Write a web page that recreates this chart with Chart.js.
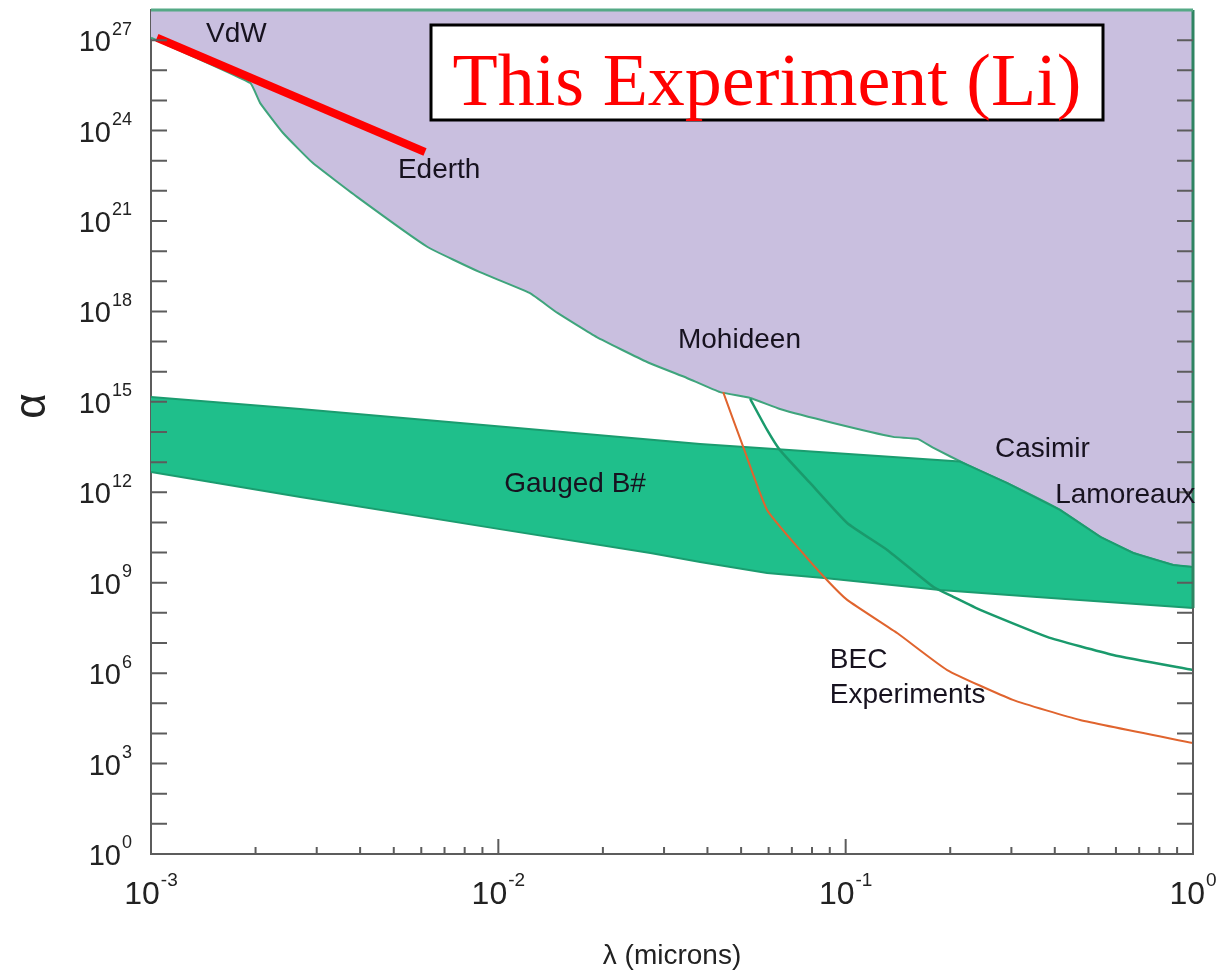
<!DOCTYPE html>
<html>
<head>
<meta charset="utf-8">
<script src="https://cdn.jsdelivr.net/npm/chart.js@4.4.1/dist/chart.umd.min.js"></script>
<style>
  html, body { margin: 0; padding: 0; background: #fff; }
</style>
</head>
<body>
<canvas id="boundsChart" width="1222" height="974"></canvas>
<script>
"use strict";

// lambda in microns, alpha dimensionless

// upper excluded region (purple), lower boundary
const EXCLUDED_X = [1.0e-3, 1.93e-3, 2.06e-3, 2.40e-3, 2.92e-3, 3.92e-3, 6.24e-3, 8.85e-3, 1.23e-2, 1.48e-2,
  1.92e-2, 2.68e-2, 3.49e-2, 4.35e-2, 5.31e-2, 6.47e-2, 9.2e-2, 0.137, 0.161, 0.179, 0.224, 0.292, 0.414,
  0.541, 0.673, 0.877, 1.0];
const EXCLUDED_Y = [1.2e27, 3.8e25, 8.3e24, 8.3e23, 8.5e22, 6.3e21, 1.4e20, 2.0e19, 4.1e18, 8.9e17,
  1.4e17, 2.1e16, 6.2e15, 2.1e15, 1.35e15, 5.8e14, 2.0e14, 6.9e13, 5.9e13, 2.95e13, 8.1e12, 2.0e12, 2.6e11,
  3.3e10, 9.7e9, 3.9e9, 3.3e9];

// gauged baryon number band
const BAND_UPPER_X = [1e-3, 2.69e-3, 3.81e-2, 0.213, 0.224, 0.292, 0.414, 0.541, 0.673, 0.877, 1.0];
const BAND_UPPER_Y = [1.45e15, 5.8e14, 4.0e13, 1.05e13, 8.1e12, 2.0e12, 2.6e11, 3.3e10, 9.7e9, 3.9e9, 3.3e9];
const BAND_LOWER_X = [1e-3, 2.69e-3, 1.01e-2, 2.74e-2, 3.81e-2, 5.94e-2, 8.83e-2, 0.187, 0.347, 1.0];
const BAND_LOWER_Y = [4.7e12, 7.0e11, 6.0e10, 9.7e9, 4.9e9, 2.1e9, 1.4e9, 5.7e8, 3.4e8, 1.45e8];

// second green limit curve
const GREEN_X = [5.31e-2, 5.94e-2, 6.47e-2, 7.91e-2, 0.101, 0.132, 0.179, 0.204, 0.244, 0.380, 0.589, 1.0];
const GREEN_Y = [1.25e15, 1.17e14, 2.5e13, 2.0e12, 9.6e10, 1.2e10, 7.2e8, 3.4e8, 1.25e8, 1.6e7, 4.0e6, 1.27e6];

// BEC experiments projection
const BEC_X = [4.44e-2, 5.07e-2, 5.94e-2, 7.40e-2, 8.83e-2, 0.101, 0.141, 0.196, 0.303, 0.473, 1.0];
const BEC_Y = [2.1e15, 3.2e13, 2.6e11, 1.2e10, 1.23e9, 2.7e8, 2.1e7, 1.27e6, 1.3e5, 2.8e4, 4.8e3];

// this experiment (Li)
const THIS_X = [1.04e-3, 6.15e-3];
const THIS_Y = [1.2e27, 1.95e23];

// region labels (left edge, baseline)
const LABEL_TEXT = ["VdW", "Ederth", "Mohideen", "Casimir", "Lamoreaux", "Gauged B#", "BEC", "Experiments"];
const LABEL_X = [1.44e-3, 5.14e-3, 3.29e-2, 0.269, 0.401, 1.04e-2, 9.0e-2, 9.0e-2];
const LABEL_Y = [8.7e26, 2.7e22, 6.2e16, 1.5e13, 4.4e11, 1.0e12, 1.5e6, 1.0e5];

// ticks
const Y_LABEL_EXP = [0, 3, 6, 9, 12, 15, 18, 21, 24, 27];
const Y_TICK_EXP = [1, 2, 3, 4, 5, 6, 7, 8, 9, 10, 11, 12, 13, 14, 15, 16, 17, 18, 19, 20, 21, 22, 23, 24, 25, 26, 27];
const X_LABEL_EXP = [-3, -2, -1, 0];
const X_MINOR = [2, 3, 4, 5, 6, 7, 8, 9];

const TITLE_BOX_TEXT = "This Experiment (Li)";
const X_TITLE = "λ (microns)";
const Y_TITLE = "α";

const SANS = "'Liberation Sans', Arial, sans-serif";
const AXIS_COLOR = "#5c5c5c";
const TEXT_COLOR = "#17121f";

const toPoints = (xs, ys) => xs.map((x, i) => ({ x, y: ys[i] }));

const bandShape = toPoints(BAND_UPPER_X, BAND_UPPER_Y)
  .concat(toPoints(BAND_LOWER_X, BAND_LOWER_Y).reverse());

function drawPower(ctx, exp, anchorX, baseY, align, size, supSize) {
  const base = "10";
  const sup = String(exp);
  ctx.font = `${size}px ${SANS}`;
  const wb = ctx.measureText(base).width;
  ctx.font = `${supSize}px ${SANS}`;
  const ws = ctx.measureText(sup).width;
  const total = wb + 1 + ws;
  const left = align === "right" ? anchorX - total : anchorX - total / 2;
  ctx.textAlign = "left";
  ctx.textBaseline = "alphabetic";
  ctx.font = `${size}px ${SANS}`;
  ctx.fillText(base, left, baseY);
  ctx.font = `${supSize}px ${SANS}`;
  ctx.fillText(sup, left + wb + 1, baseY - size * 0.57);
}

const overlayPlugin = {
  id: "overlay",
  afterDatasetsDraw(chart) {
    const { ctx, chartArea: area, scales: { x, y } } = chart;
    ctx.save();

    // frame: top and right edges
    ctx.lineWidth = 2;
    ctx.strokeStyle = AXIS_COLOR;
    ctx.beginPath();
    ctx.moveTo(area.right, area.top);
    ctx.lineTo(area.right, area.bottom);
    ctx.stroke();

    const bandBottom = y.getPixelForValue(BAND_LOWER_Y[BAND_LOWER_Y.length - 1]);
    ctx.lineWidth = 3;
    ctx.strokeStyle = "#2f8462";
    ctx.beginPath();
    ctx.moveTo(area.right, area.top);
    ctx.lineTo(area.right, bandBottom);
    ctx.stroke();
    ctx.strokeStyle = "#55a986";
    ctx.beginPath();
    ctx.moveTo(area.left, area.top);
    ctx.lineTo(area.right, area.top);
    ctx.stroke();

    // y tick marks, inside on both sides
    ctx.lineWidth = 2;
    ctx.strokeStyle = AXIS_COLOR;
    ctx.beginPath();
    Y_TICK_EXP.forEach(e => {
      const py = y.getPixelForValue(10 ** e);
      ctx.moveTo(area.left, py);
      ctx.lineTo(area.left + 16, py);
      ctx.moveTo(area.right, py);
      ctx.lineTo(area.right - 16, py);
    });
    // x tick marks, inside
    X_LABEL_EXP.slice(0, -1).forEach(d => {
      X_MINOR.forEach(m => {
        const px = x.getPixelForValue(m * 10 ** d);
        ctx.moveTo(px, area.bottom);
        ctx.lineTo(px, area.bottom - 7);
      });
      if (d > X_LABEL_EXP[0]) {
        const px = x.getPixelForValue(10 ** d);
        ctx.moveTo(px, area.bottom);
        ctx.lineTo(px, area.bottom - 15);
      }
    });
    ctx.stroke();

    // tick labels
    ctx.fillStyle = "#222222";
    Y_LABEL_EXP.forEach(e => {
      const py = y.getPixelForValue(10 ** e);
      drawPower(ctx, e, area.left - 19, py + 11, "right", 29, 18);
    });
    X_LABEL_EXP.forEach(e => {
      const px = x.getPixelForValue(10 ** e);
      drawPower(ctx, e, px, area.bottom + 50, "center", 32, 19);
    });

    // region labels
    ctx.fillStyle = TEXT_COLOR;
    ctx.font = `28px ${SANS}`;
    ctx.textAlign = "left";
    ctx.textBaseline = "alphabetic";
    LABEL_TEXT.forEach((t, i) => {
      ctx.fillText(t, x.getPixelForValue(LABEL_X[i]), y.getPixelForValue(LABEL_Y[i]));
    });

    // y axis title, rotated
    ctx.save();
    ctx.translate(area.left - 118, area.top + 396);
    ctx.rotate(-Math.PI / 2);
    ctx.fillStyle = "#222222";
    ctx.font = `44px ${SANS}`;
    ctx.textAlign = "center";
    ctx.textBaseline = "middle";
    ctx.fillText(Y_TITLE, 0, 0);
    ctx.restore();

    // legend box for this experiment
    const bx = area.left + 280;
    const by = area.top + 15;
    const bw = 672;
    const bh = 95;
    ctx.fillStyle = "#ffffff";
    ctx.fillRect(bx, by, bw, bh);
    ctx.lineWidth = 3;
    ctx.strokeStyle = "#000000";
    ctx.strokeRect(bx, by, bw, bh);
    ctx.fillStyle = "#ff0000";
    ctx.font = "74px 'Liberation Serif', 'Times New Roman', serif";
    ctx.textAlign = "center";
    ctx.textBaseline = "alphabetic";
    ctx.fillText(TITLE_BOX_TEXT, bx + bw / 2, by + 80);

    ctx.restore();
  }
};

const ctx = document.getElementById("boundsChart").getContext("2d");

new Chart(ctx, {
  type: "line",
  data: {
    datasets: [
      {
        label: "This Experiment (Li)",
        data: toPoints(THIS_X, THIS_Y),
        borderColor: "#ff0000",
        borderWidth: 8,
        borderCapStyle: "butt",
        pointRadius: 0,
        fill: false,
        order: 0
      },
      {
        label: "BEC Experiments",
        data: toPoints(BEC_X, BEC_Y),
        borderColor: "#e0642e",
        borderWidth: 2,
        tension: 0.15,
        pointRadius: 0,
        fill: false,
        order: 1
      },
      {
        label: "Limit",
        data: toPoints(GREEN_X, GREEN_Y),
        borderColor: "#1a9a6c",
        borderWidth: 2.5,
        tension: 0.15,
        pointRadius: 0,
        fill: false,
        order: 2
      },
      {
        label: "Gauged B#",
        data: bandShape,
        borderColor: "#1b9c6f",
        borderWidth: 2,
        backgroundColor: "#1fbf8b",
        pointRadius: 0,
        fill: "shape",
        order: 3
      },
      {
        label: "Excluded",
        data: toPoints(EXCLUDED_X, EXCLUDED_Y),
        borderColor: "#3fa47c",
        borderWidth: 2,
        backgroundColor: "#c9bfdf",
        tension: 0.12,
        pointRadius: 0,
        fill: "end",
        order: 4
      }
    ]
  },
  options: {
    responsive: false,
    animation: false,
    devicePixelRatio: 1,
    layout: { padding: { top: 10, right: 29, left: 0, bottom: 0 } },
    elements: { line: { tension: 0 } },
    plugins: {
      legend: { display: false },
      tooltip: { enabled: false }
    },
    scales: {
      x: {
        type: "logarithmic",
        min: 1e-3,
        max: 1,
        grid: { display: false },
        border: { display: true, color: AXIS_COLOR, width: 2 },
        ticks: { display: false },
        title: {
          display: true,
          text: X_TITLE,
          color: "#222222",
          font: { family: SANS, size: 28 },
          padding: { top: 0, bottom: 1 }
        },
        afterFit: scale => { scale.height = 120; }
      },
      y: {
        type: "logarithmic",
        min: 1,
        max: 1e28,
        grid: { display: false },
        border: { display: true, color: AXIS_COLOR, width: 2 },
        ticks: { display: false },
        afterFit: scale => { scale.width = 151; }
      }
    }
  },
  plugins: [overlayPlugin]
});
</script>
</body>
</html>
